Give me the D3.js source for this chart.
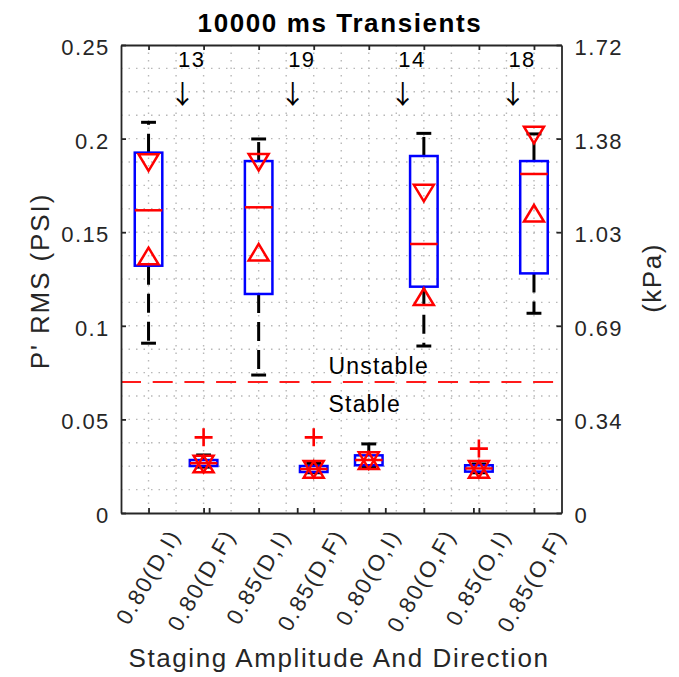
<!DOCTYPE html>
<html><head><meta charset="utf-8">
<script src="https://cdn.jsdelivr.net/npm/d3@7"></script>
<style>body{margin:0;background:#fff} svg{display:block}</style>
</head><body><svg id="c" width="679" height="677"></svg>
<script>
// ---- data ----
const categories = ["0.80(D,I)","0.80(D,F)","0.85(D,I)","0.85(D,F)","0.80(O,I)","0.80(O,F)","0.85(O,I)","0.85(O,F)"];
const whiskerLow  = [0.0907, 0.0245, 0.0737, 0.0215, 0.0245, 0.0892, 0.0215, 0.1067];
const q1          = [0.1321, 0.0251, 0.1170, 0.0219, 0.0255, 0.1209, 0.0221, 0.1280];
const medians     = [0.1617, 0.0266, 0.1633, 0.0235, 0.0283, 0.1437, 0.0238, 0.1811];
const q3          = [0.1925, 0.0283, 0.1880, 0.0251, 0.0308, 0.1907, 0.0255, 0.1880];
const whiskerHigh = [0.2087, 0.0310, 0.1998, 0.0265, 0.0369, 0.2028, 0.0262, 0.2025];
const triDown     = [0.1872, 0.0262, 0.1874, 0.0233, 0.0280, 0.1709, 0.0233, 0.2019];
const triUp       = [0.1373, 0.0262, 0.1393, 0.0233, 0.0280, 0.1155, 0.0233, 0.1601];
const outliers    = [[], [0.0404], [], [0.0404], [], [], [0.0344], []];
const threshold = 0.07;
const countLabels = ["13", "19", "14", "18"];
const countPos = [1.5, 3.5, 5.5, 7.5];
const yTicks = [0, 0.05, 0.1, 0.15, 0.2, 0.25];
const yTickLabels = ["0", "0.05", "0.1", "0.15", "0.2", "0.25"];
const kPaTickLabels = ["0", "0.34", "0.69", "1.03", "1.38", "1.72"];
const extraBottomTicks = [1, 2, 3, 4];

(function () {
// ---- layout ----
const FONT = "'Liberation Sans', Arial, Helvetica, sans-serif";
const AX = "#262626";
const P = {left:121, right:561.5, top:45, bottom:513};
const svg = d3.select("#c");
const x = d3.scaleLinear().domain([0.5, 8.5]).range([P.left, P.right]);
const x2 = d3.scaleLinear().domain([0, 5]).range([P.left, P.right]);
const y = d3.scaleLinear().domain([0, 0.25]).range([P.bottom, P.top]);

// grid
const grid = svg.append("g").attr("stroke", "#b8b8b8").attr("stroke-width", 1.4)
  .attr("stroke-dasharray", "1.5,6");
d3.range(1, 8.01, 0.5).forEach(v => {
  grid.append("line").attr("x1", x(v)).attr("x2", x(v)).attr("y1", P.top).attr("y2", P.bottom);
});
d3.range(1, 20).forEach(k => {
  const v = k * 0.0125;
  grid.append("line").attr("x1", P.left).attr("x2", P.right).attr("y1", y(v)).attr("y2", y(v));
});

// threshold line
svg.append("line").attr("x1", P.left).attr("x2", P.right)
  .attr("y1", y(threshold)).attr("y2", y(threshold))
  .attr("stroke", "#ff1a1a").attr("stroke-width", 2).attr("stroke-dasharray", "20,11.7");
svg.append("text").attr("x", 328.5).attr("y", 374).text("Unstable")
  .attr("font-family", FONT).attr("font-size", 23).attr("letter-spacing", 1.2).attr("fill", "#000");
svg.append("text").attr("x", 328.5).attr("y", 411.7).text("Stable")
  .attr("font-family", FONT).attr("font-size", 23).attr("letter-spacing", 1.2).attr("fill", "#000");

// boxes
const g = svg.append("g");
categories.forEach((c, i) => {
  const cx = i + 1;
  g.append("line").attr("x1", x(cx)).attr("x2", x(cx)).attr("y1", y(q3[i])).attr("y2", y(whiskerHigh[i]))
    .attr("stroke", "#000").attr("stroke-width", 3).attr("stroke-dasharray", "19,9");
  g.append("line").attr("x1", x(cx)).attr("x2", x(cx)).attr("y1", y(q1[i])).attr("y2", y(whiskerLow[i]))
    .attr("stroke", "#000").attr("stroke-width", 3).attr("stroke-dasharray", "19,9");
  [whiskerHigh[i], whiskerLow[i]].forEach(v => {
    g.append("line").attr("x1", x(cx - 0.135)).attr("x2", x(cx + 0.135)).attr("y1", y(v)).attr("y2", y(v))
      .attr("stroke", "#000").attr("stroke-width", 3);
  });
  g.append("rect").attr("x", x(cx - 0.25)).attr("width", x(cx + 0.25) - x(cx - 0.25))
    .attr("y", y(q3[i])).attr("height", y(q1[i]) - y(q3[i]))
    .attr("fill", "none").attr("stroke", "#0000ff").attr("stroke-width", 2.5);
  g.append("line").attr("x1", x(cx - 0.25)).attr("x2", x(cx + 0.25)).attr("y1", y(medians[i])).attr("y2", y(medians[i]))
    .attr("stroke", "#ff0000").attr("stroke-width", 2.5);
  const hw = 10, hh = 8.3;
  const px = x(cx);
  const yd = y(triDown[i]), yu = y(triUp[i]);
  g.append("path").attr("d", `M${px-hw},${yd-hh}L${px+hw},${yd-hh}L${px},${yd+hh}Z`)
    .attr("fill", "none").attr("stroke", "#ff0000").attr("stroke-width", 2.5);
  g.append("path").attr("d", `M${px-hw},${yu+hh}L${px+hw},${yu+hh}L${px},${yu-hh}Z`)
    .attr("fill", "none").attr("stroke", "#ff0000").attr("stroke-width", 2.5);
  outliers[i].forEach(v => {
    const oy = y(v), s = 9;
    g.append("path").attr("d", `M${px-s},${oy}H${px+s}M${px},${oy-s}V${oy+s}`)
      .attr("stroke", "#ff0000").attr("stroke-width", 2.6).attr("fill", "none");
  });
});

// count annotations
countLabels.forEach((t, i) => {
  svg.append("text").attr("x", x(countPos[i]) + 2).attr("y", 67).text(t)
    .attr("font-family", FONT).attr("font-size", 22).attr("letter-spacing", 1.4).attr("fill", "#000");
  svg.append("text").attr("x", x(countPos[i]) + 6.5).attr("y", 104).attr("text-anchor", "middle")
    .text("\u2193")
    .attr("font-family", "'Noto Sans CJK SC', 'Noto Sans CJK JP', sans-serif")
    .attr("font-size", 26).attr("fill", "#000");
});

// axes
function styleAxis(sel) {
  sel.select(".domain").attr("stroke", AX).attr("stroke-width", 1.8);
  sel.selectAll(".tick line").attr("stroke", AX).attr("stroke-width", 1.8);
  sel.selectAll("text").attr("font-family", FONT).attr("font-size", 22)
    .attr("letter-spacing", 1.4).attr("fill", AX);
}
const axL = svg.append("g").attr("transform", `translate(${P.left},0)`)
  .call(d3.axisLeft(y).tickValues(yTicks).tickSizeInner(-5).tickSizeOuter(0)
    .tickFormat((d, i) => yTickLabels[i]));
styleAxis(axL);
axL.selectAll(".tick text").attr("x", -11.3).attr("dy", "0.43em");

const axR = svg.append("g").attr("transform", `translate(${P.right},0)`)
  .call(d3.axisRight(y).tickValues(yTicks).tickSizeInner(-5).tickSizeOuter(0)
    .tickFormat((d, i) => kPaTickLabels[i]));
styleAxis(axR);
axR.selectAll(".tick text").attr("x", 13).attr("dy", "0.43em");

const axT = svg.append("g").attr("transform", `translate(0,${P.top})`)
  .call(d3.axisTop(x).tickValues(d3.range(1, 9)).tickSizeInner(-5).tickSizeOuter(0).tickFormat(""));
styleAxis(axT);

const axB = svg.append("g").attr("transform", `translate(0,${P.bottom})`)
  .call(d3.axisBottom(x).tickValues(d3.range(1, 9)).tickSizeInner(-5).tickSizeOuter(0).tickFormat(""));
styleAxis(axB);
const axB2 = svg.append("g").attr("transform", `translate(0,${P.bottom})`)
  .call(d3.axisBottom(x2).tickValues(extraBottomTicks).tickSizeInner(-5).tickSizeOuter(0).tickFormat(""));
styleAxis(axB2);
axB2.select(".domain").remove();

// rotated category labels
categories.forEach((c, i) => {
  svg.append("text").attr("transform", `translate(${x(i + 1) + 26},531) rotate(-60)`)
    .attr("text-anchor", "end").attr("dy", "0.35em").text(c)
    .attr("font-family", FONT).attr("font-size", 22.5).attr("letter-spacing", 2).attr("fill", AX);
});

// titles
svg.append("text").attr("x", 340).attr("y", 31.5).attr("text-anchor", "middle")
  .text("10000 ms Transients").attr("font-family", FONT).attr("font-size", 26)
  .attr("font-weight", "bold").attr("letter-spacing", 1.6).attr("fill", "#000");
svg.append("text").attr("x", 339).attr("y", 667).attr("text-anchor", "middle")
  .text("Staging Amplitude And Direction").attr("font-family", FONT).attr("font-size", 26)
  .attr("letter-spacing", 1.6).attr("fill", AX);
svg.append("text").attr("transform", "translate(49,281) rotate(-90)").attr("text-anchor", "middle")
  .text("P' RMS (PSI)").attr("font-family", FONT).attr("font-size", 26)
  .attr("letter-spacing", 1.9).attr("fill", AX);
svg.append("text").attr("transform", "translate(661,278) rotate(-90)").attr("text-anchor", "middle")
  .text("(kPa)").attr("font-family", FONT).attr("font-size", 26)
  .attr("letter-spacing", 1.5).attr("fill", AX);
})();
</script></body></html>
